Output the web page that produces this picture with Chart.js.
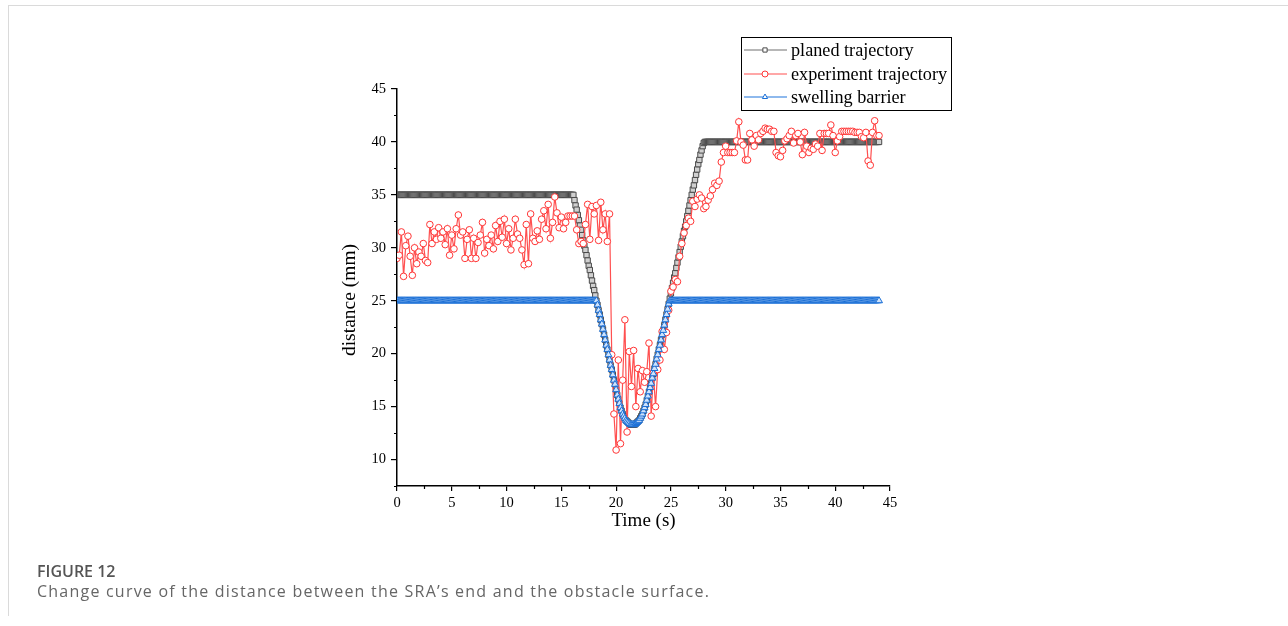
<!DOCTYPE html>
<html>
<head>
<meta charset="utf-8">
<script src="https://cdn.jsdelivr.net/npm/chart.js@4.4.1/dist/chart.umd.min.js"></script>
<style>
  html, body { margin: 0; padding: 0; background: #fff; }
  body { width: 1288px; height: 626px; position: relative; overflow: hidden; }
  #card { position: absolute; left: 8px; top: 5px; width: 1290px; height: 610px;
          border-top: 1px solid #dadada; border-left: 1px solid #dadada; }
  #chart { position: absolute; left: 0; top: 0; }
  .cap { position: absolute; left: 37px; font-family: "Open Sans", sans-serif; font-size: 16px; white-space: nowrap; }
  #figNo { top: 560px; font-weight: 600; color: #555; }
  #figText { top: 580px; color: #666; letter-spacing: 1.22px; }
</style>
</head>
<body>
<div id="card"></div>
<canvas id="chart" width="1288" height="626"></canvas>
<div class="cap" id="figNo">FIGURE 12</div>
<div class="cap" id="figText">Change curve of the distance between the SRA’s end and the obstacle surface.</div>
<script>
const xTicks = [0, 5, 10, 15, 20, 25, 30, 35, 40, 45];
const yTicks = [10, 15, 20, 25, 30, 35, 40, 45];

// planned trajectory, sampled every 0.1 s from 0 to 44 s
const plannedY = [
  35, 35, 35, 35, 35, 35, 35, 35, 35, 35, 35, 35, 35, 35, 35, 35, 35, 35, 35, 35,
  35, 35, 35, 35, 35, 35, 35, 35, 35, 35, 35, 35, 35, 35, 35, 35, 35, 35, 35, 35,
  35, 35, 35, 35, 35, 35, 35, 35, 35, 35, 35, 35, 35, 35, 35, 35, 35, 35, 35, 35,
  35, 35, 35, 35, 35, 35, 35, 35, 35, 35, 35, 35, 35, 35, 35, 35, 35, 35, 35, 35,
  35, 35, 35, 35, 35, 35, 35, 35, 35, 35, 35, 35, 35, 35, 35, 35, 35, 35, 35, 35,
  35, 35, 35, 35, 35, 35, 35, 35, 35, 35, 35, 35, 35, 35, 35, 35, 35, 35, 35, 35,
  35, 35, 35, 35, 35, 35, 35, 35, 35, 35, 35, 35, 35, 35, 35, 35, 35, 35, 35, 35,
  35, 35, 35, 35, 35, 35, 35, 35, 35, 35, 35, 35, 35, 35, 35, 35, 35, 35, 35, 35,
  35, 35,
  34.5, 34.0, 33.6, 33.1, 32.6, 32.1, 31.7, 31.2, 30.7, 30.2,
  29.8, 29.3, 28.8, 28.3, 27.9, 27.4, 26.9, 26.4, 26.0, 25.5,
  25.0, 24.6, 24.1, 23.7, 23.2, 22.8, 22.3, 21.8, 21.3, 20.8,
  20.4, 19.9, 19.4, 18.9, 18.5, 18.0, 17.5, 17.1, 16.6, 16.1,
  15.7, 15.3, 14.9, 14.6, 14.3, 14.1, 13.9, 13.7, 13.6, 13.5,
  13.4, 13.3, 13.3, 13.3, 13.3, 13.3, 13.4, 13.5, 13.6, 13.7,
  13.9, 14.1, 14.3, 14.6, 14.9, 15.2, 15.6, 16.0, 16.4, 16.8,
  17.2, 17.7, 18.1, 18.6, 19.0, 19.5, 19.9, 20.4, 20.8, 21.3,
  21.8, 22.2, 22.7, 23.2, 23.7, 24.2, 24.7,
  25.2, 25.7, 26.2, 26.7, 27.2, 27.6, 28.1, 28.6, 29.1, 29.6,
  30.1, 30.6, 31.1, 31.6, 32.0, 32.5, 33.0, 33.5, 34.0, 34.5,
  35.0, 35.5, 35.9, 36.4, 36.9, 37.4, 37.9, 38.3, 38.8, 39.2,
  39.6, 39.9,
  40, 40, 40, 40, 40, 40, 40, 40, 40, 40, 40, 40, 40, 40, 40, 40, 40, 40, 40, 40,
  40, 40, 40, 40, 40, 40, 40, 40, 40, 40, 40, 40, 40, 40, 40, 40, 40, 40, 40, 40,
  40, 40, 40, 40, 40, 40, 40, 40, 40, 40, 40, 40, 40, 40, 40, 40, 40, 40, 40, 40,
  40, 40, 40, 40, 40, 40, 40, 40, 40, 40, 40, 40, 40, 40, 40, 40, 40, 40, 40, 40,
  40, 40, 40, 40, 40, 40, 40, 40, 40, 40, 40, 40, 40, 40, 40, 40, 40, 40, 40, 40,
  40, 40, 40, 40, 40, 40, 40, 40, 40, 40, 40, 40, 40, 40, 40, 40, 40, 40, 40, 40,
  40, 40, 40, 40, 40, 40, 40, 40, 40, 40, 40, 40, 40, 40, 40, 40, 40, 40, 40, 40,
  40, 40, 40, 40, 40, 40, 40, 40, 40, 40, 40, 40, 40, 40, 40, 40, 40, 40, 40, 40
];

// swelling barrier, sampled every 0.1 s from 0 to 44 s
const barrierY = [
  25, 25, 25, 25, 25, 25, 25, 25, 25, 25, 25, 25, 25, 25, 25, 25, 25, 25, 25, 25,
  25, 25, 25, 25, 25, 25, 25, 25, 25, 25, 25, 25, 25, 25, 25, 25, 25, 25, 25, 25,
  25, 25, 25, 25, 25, 25, 25, 25, 25, 25, 25, 25, 25, 25, 25, 25, 25, 25, 25, 25,
  25, 25, 25, 25, 25, 25, 25, 25, 25, 25, 25, 25, 25, 25, 25, 25, 25, 25, 25, 25,
  25, 25, 25, 25, 25, 25, 25, 25, 25, 25, 25, 25, 25, 25, 25, 25, 25, 25, 25, 25,
  25, 25, 25, 25, 25, 25, 25, 25, 25, 25, 25, 25, 25, 25, 25, 25, 25, 25, 25, 25,
  25, 25, 25, 25, 25, 25, 25, 25, 25, 25, 25, 25, 25, 25, 25, 25, 25, 25, 25, 25,
  25, 25, 25, 25, 25, 25, 25, 25, 25, 25, 25, 25, 25, 25, 25, 25, 25, 25, 25, 25,
  25, 25, 25, 25, 25, 25, 25, 25, 25, 25, 25, 25, 25, 25, 25, 25, 25, 25, 25, 25,
  25, 25,
  25.0, 24.6, 24.1, 23.7, 23.2, 22.8, 22.3, 21.8, 21.3, 20.8,
  20.4, 19.9, 19.4, 18.9, 18.5, 18.0, 17.5, 17.1, 16.6, 16.1,
  15.7, 15.3, 14.9, 14.6, 14.3, 14.1, 13.9, 13.7, 13.6, 13.5,
  13.4, 13.3, 13.3, 13.3, 13.3, 13.3, 13.4, 13.5, 13.6, 13.7,
  13.9, 14.1, 14.3, 14.6, 14.9, 15.2, 15.6, 16.0, 16.4, 16.8,
  17.2, 17.7, 18.1, 18.6, 19.0, 19.5, 19.9, 20.4, 20.8, 21.3,
  21.8, 22.2, 22.7, 23.2, 23.7, 24.2, 24.7,
  25, 25, 25, 25, 25, 25, 25, 25, 25, 25, 25, 25, 25, 25, 25, 25, 25, 25, 25, 25,
  25, 25, 25, 25, 25, 25, 25, 25, 25, 25, 25, 25, 25, 25, 25, 25, 25, 25, 25, 25,
  25, 25, 25, 25, 25, 25, 25, 25, 25, 25, 25, 25, 25, 25, 25, 25, 25, 25, 25, 25,
  25, 25, 25, 25, 25, 25, 25, 25, 25, 25, 25, 25, 25, 25, 25, 25, 25, 25, 25, 25,
  25, 25, 25, 25, 25, 25, 25, 25, 25, 25, 25, 25, 25, 25, 25, 25, 25, 25, 25, 25,
  25, 25, 25, 25, 25, 25, 25, 25, 25, 25, 25, 25, 25, 25, 25, 25, 25, 25, 25, 25,
  25, 25, 25, 25, 25, 25, 25, 25, 25, 25, 25, 25, 25, 25, 25, 25, 25, 25, 25, 25,
  25, 25, 25, 25, 25, 25, 25, 25, 25, 25, 25, 25, 25, 25, 25, 25, 25, 25, 25, 25,
  25, 25, 25, 25, 25, 25, 25, 25, 25, 25, 25, 25, 25, 25, 25, 25, 25, 25, 25, 25,
  25, 25, 25, 25, 25, 25, 25, 25, 25, 25, 25, 25
];

// experiment trajectory, sampled every 0.2 s from 0 to 44 s
const experimentY = [
  29.0, 29.3, 31.5, 27.3, 30.2, 31.1, 29.2, 27.4, 30.0, 28.5,
  29.6, 29.2, 30.4, 28.8, 28.6, 32.2, 30.4, 31.5, 30.8, 31.9,
  30.9, 31.5, 30.3, 31.8, 29.3, 31.2, 29.9, 31.8, 33.1, 31.2,
  31.5, 29.0, 30.8, 31.7, 29.0, 30.9, 29.0, 30.5, 31.2, 32.4,
  29.5, 30.8, 30.2, 31.2, 29.9, 32.1, 30.6, 32.5, 31.0, 32.7,
  30.4, 31.8, 29.8, 30.9, 32.7, 31.3, 30.9, 29.8, 28.4, 32.2,
  28.5, 33.2, 30.9, 30.6, 31.6, 30.8, 32.7, 33.5, 31.8, 34.1,
  30.9, 32.4, 34.8, 33.3, 31.9, 32.9, 31.8, 32.4, 33.0, 33.0,
  33.0, 33.0, 31.7, 30.4, 30.6, 30.4, 32.2, 34.1, 30.8, 33.9,
  33.2, 34.0, 30.7, 34.3, 31.7, 33.2, 30.6, 33.2, 19.9, 14.3,
  10.9, 19.4, 11.5, 17.5, 23.2, 12.6, 20.2, 16.9, 20.3, 15.0,
  18.6, 16.4, 18.4, 17.3, 18.3, 21.0, 14.1, 18.2, 15.0, 18.5,
  19.4, 22.1, 20.4, 22.0, 24.1, 25.9, 26.3, 27.0, 26.8, 29.2,
  30.4, 31.4, 32.1, 32.8, 32.5, 34.4, 33.9, 34.6, 35.0, 34.7,
  33.7, 33.9, 34.5, 34.9, 35.5, 36.1, 35.9, 36.3, 38.1, 39.0,
  39.6, 39.0, 39.0, 39.0, 39.0, 40.1, 41.9, 40.0, 39.7, 38.3,
  38.3, 40.8, 40.2, 39.6, 40.6, 40.2, 40.8, 41.0, 41.3, 41.2,
  41.2, 41.0, 41.0, 39.0, 38.7, 38.6, 39.2, 40.1, 40.3, 40.6,
  41.0, 39.9, 40.6, 40.8, 40.0, 38.8, 40.9, 39.6, 39.0, 39.4,
  39.3, 39.8, 39.6, 40.8, 39.2, 40.8, 40.8, 40.8, 41.6, 40.6,
  39.0, 40.1, 40.5, 41.0, 41.0, 41.0, 41.0, 41.0, 41.0, 40.9,
  40.9, 40.9, 40.5, 40.4, 40.9, 38.2, 37.8, 40.9, 42.0, 40.6,
  40.6
];

const fineTime = plannedY.map((_, i) => i / 10);
const coarseTime = experimentY.map((_, i) => i / 5);

const serif = '"Liberation Serif", "Times New Roman", serif';

function drawMarker(ctx, style, x, y, r, stroke, fill) {
  ctx.beginPath();
  if (style === 'rect') {
    const s = Math.SQRT1_2 * r;
    ctx.rect(x - s, y - s, 2 * s, 2 * s);
  } else if (style === 'triangle') {
    let a = 0;
    ctx.moveTo(x + Math.sin(a) * r, y - Math.cos(a) * r);
    a += 2 * Math.PI / 3;
    ctx.lineTo(x + Math.sin(a) * r, y - Math.cos(a) * r);
    a += 2 * Math.PI / 3;
    ctx.lineTo(x + Math.sin(a) * r, y - Math.cos(a) * r);
    ctx.closePath();
  } else {
    ctx.arc(x, y, r, 0, Math.PI * 2);
  }
  ctx.fillStyle = fill;
  ctx.fill();
  ctx.strokeStyle = stroke;
  ctx.lineWidth = 1;
  ctx.stroke();
}

const extras = {
  id: 'extras',
  afterDraw(chart) {
    const { ctx, scales: { x, y } } = chart;
    ctx.save();
    // minor ticks
    ctx.strokeStyle = '#000';
    ctx.lineWidth = 1.2;
    ctx.beginPath();
    for (let v = 2.5; v < 45; v += 5) {
      const px = Math.round(x.getPixelForValue(v)) + 0.5;
      ctx.moveTo(px, x.top);
      ctx.lineTo(px, x.top + 3);
    }
    for (let v = 7.5; v < 45; v += 5) {
      const py = Math.round(y.getPixelForValue(v)) + 0.5;
      ctx.moveTo(y.right, py);
      ctx.lineTo(y.right - 3, py);
    }
    ctx.stroke();

    // y axis title
    ctx.save();
    ctx.translate(350, 300);
    ctx.rotate(-Math.PI / 2);
    ctx.fillStyle = '#000';
    ctx.font = '19.5px ' + serif;
    ctx.textAlign = 'center';
    ctx.textBaseline = 'middle';
    ctx.fillText('distance (mm)', 0, 0);
    ctx.restore();

    // legend box
    ctx.strokeStyle = '#000';
    ctx.lineWidth = 1;
    ctx.strokeRect(741.5, 37.5, 210, 73);
    const rows = [50, 74, 97];
    chart.data.datasets.forEach((ds, k) => {
      const yy = rows[k];
      ctx.strokeStyle = ds.borderColor;
      ctx.lineWidth = 1.2;
      ctx.beginPath();
      ctx.moveTo(744, yy);
      ctx.lineTo(787, yy);
      ctx.stroke();
      drawMarker(ctx, ds.pointStyle, 765, yy, 3, ds.pointBorderColor, '#ffffff');
      ctx.fillStyle = '#000';
      ctx.font = '18.2px ' + serif;
      ctx.textAlign = 'left';
      ctx.textBaseline = 'middle';
      ctx.fillText(ds.label, 791, yy + 1);
    });
    ctx.restore();
  }
};

new Chart(document.getElementById('chart'), {
  type: 'line',
  data: {
    datasets: [
      {
        label: 'planed trajectory',
        data: fineTime.map((t, i) => ({ x: t, y: plannedY[i] })),
        borderColor: '#707070',
        borderWidth: 1.2,
        pointStyle: 'rect',
        pointRadius: 3.8,
        pointBorderColor: '#4a4a4a',
        pointBackgroundColor: '#d0d0d0',
        pointBorderWidth: 1,
        order: 2
      },
      {
        label: 'experiment trajectory',
        data: coarseTime.map((t, i) => ({ x: t, y: experimentY[i] })),
        borderColor: '#ff5050',
        borderWidth: 1.2,
        pointStyle: 'circle',
        pointRadius: 3.3,
        pointBorderColor: '#ff3535',
        pointBackgroundColor: '#ffffff',
        pointBorderWidth: 1,
        order: 1
      },
      {
        label: 'swelling barrier',
        data: fineTime.map((t, i) => ({ x: t, y: barrierY[i] })),
        borderColor: '#1f74dc',
        borderWidth: 1.5,
        pointStyle: 'triangle',
        pointRadius: 4,
        pointBorderColor: '#1a6fd6',
        pointBackgroundColor: '#cfe3fb',
        pointBorderWidth: 1,
        order: 0
      }
    ]
  },
  options: {
    responsive: false,
    animation: false,
    events: [],
    layout: { padding: { left: 335, right: 398, top: 89, bottom: 90 } },
    plugins: { legend: { display: false }, tooltip: { enabled: false } },
    scales: {
      x: {
        type: 'linear',
        min: 0,
        max: 45,
        afterBuildTicks: s => { s.ticks = xTicks.map(v => ({ value: v })); },
        afterFit: s => { s.height = 50; },
        ticks: { font: { family: serif, size: 14.5 }, color: '#000', padding: 3, maxRotation: 0, autoSkip: false },
        grid: { drawOnChartArea: false, tickLength: 5, color: '#000', tickColor: '#000', lineWidth: 1.2 },
        border: { color: '#000', width: 1.5 },
        title: { display: true, text: 'Time (s)', font: { family: serif, size: 19 }, color: '#000', padding: { top: 0, bottom: 4 } }
      },
      y: {
        type: 'linear',
        min: 7.5,
        max: 45,
        afterBuildTicks: s => { s.ticks = yTicks.map(v => ({ value: v })); },
        afterFit: s => { s.width = 62; },
        ticks: { font: { family: serif, size: 14.5 }, color: '#000', padding: 5, autoSkip: false },
        grid: { drawOnChartArea: false, tickLength: 6, color: '#000', tickColor: '#000', lineWidth: 1.2 },
        border: { color: '#000', width: 1.5 }
      }
    }
  },
  plugins: [extras]
});
</script>
</body>
</html>
